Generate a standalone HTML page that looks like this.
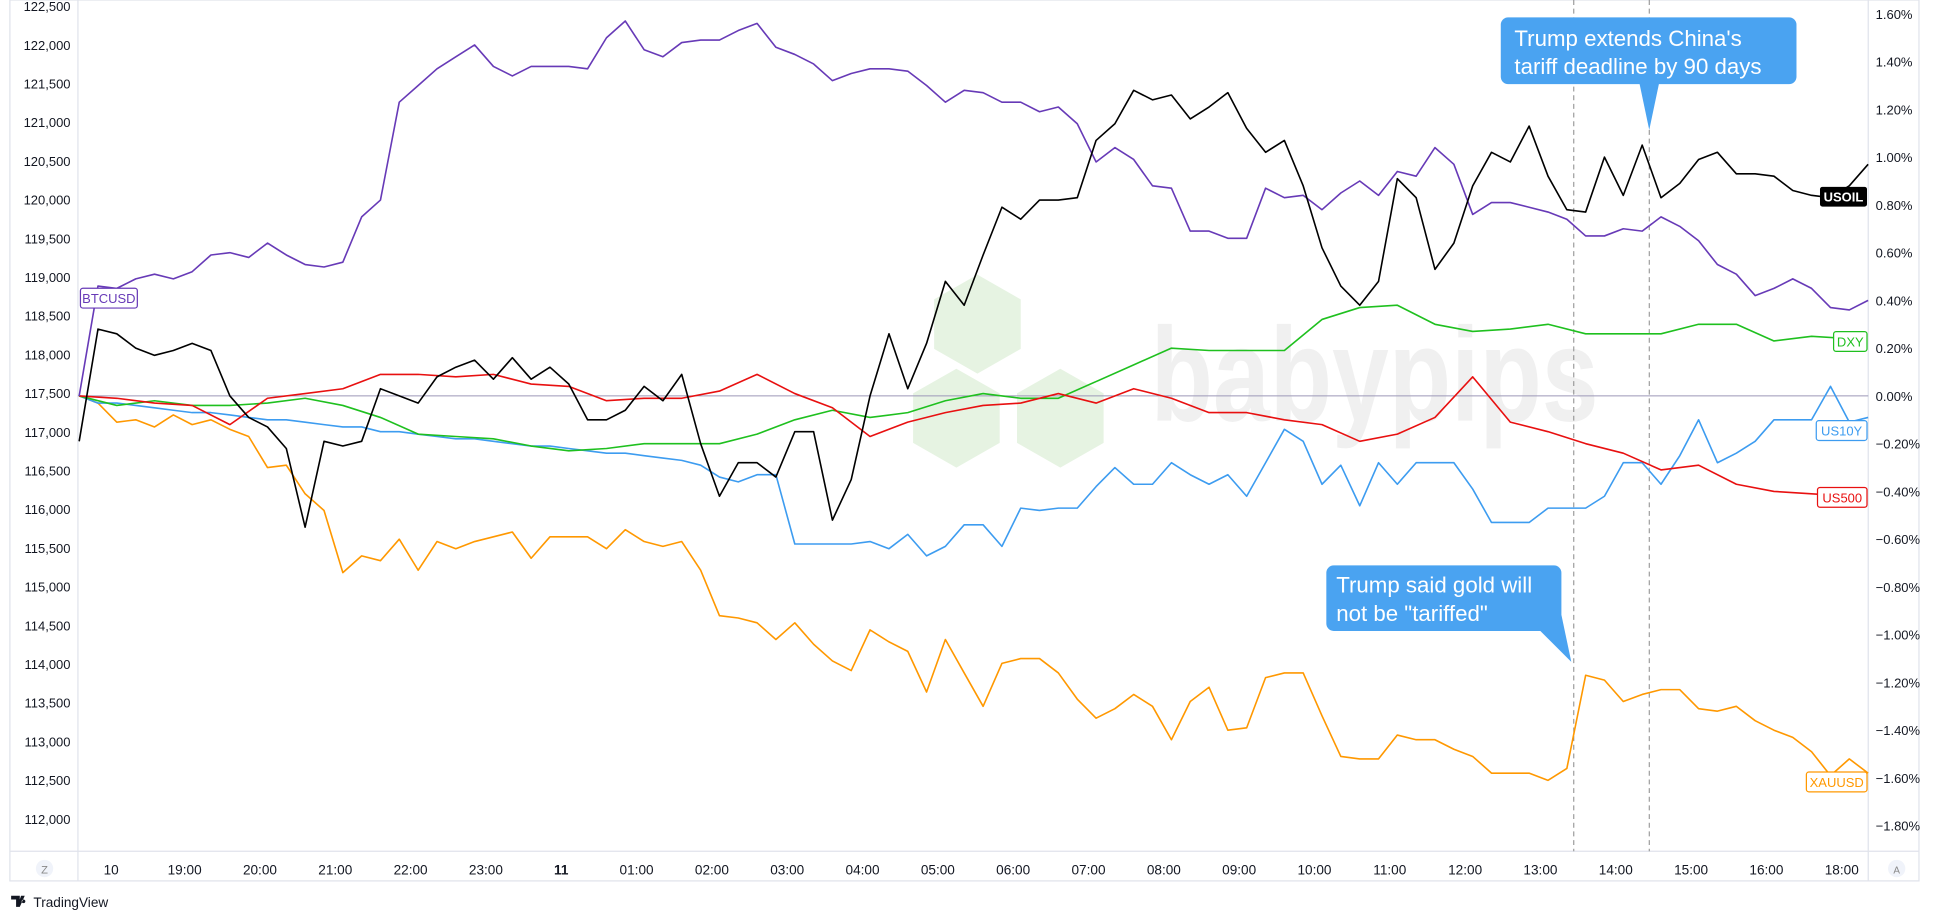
<!DOCTYPE html>
<html><head><meta charset="utf-8">
<style>
html,body{margin:0;padding:0;background:#fff;width:1940px;height:920px;overflow:hidden}
svg{display:block;font-family:"Liberation Sans",sans-serif}
</style></head>
<body>
<svg id="chart" width="1940" height="920" viewBox="0 0 1568 743.6" preserveAspectRatio="none" xmlns="http://www.w3.org/2000/svg">
  <rect x="0" y="0" width="1568" height="743.6" fill="#fff"/>
  <rect x="8" y="0" width="1543" height="712" fill="none" stroke="#e0e3eb" stroke-width="1"/>
  <line x1="63" y1="0" x2="63" y2="712" stroke="#e0e3eb"/>
  <line x1="1510" y1="0" x2="1510" y2="712" stroke="#e0e3eb"/>
  <line x1="8" y1="688" x2="1551" y2="688" stroke="#e0e3eb"/>
  <g>
    <polygon points="790,222 825,242 825,282 790,302 755,282 755,242" fill="#e6f3e2"/>
    <polygon points="773,298 808,318 808,358 773,378 738,358 738,318" fill="#e6f3e2"/>
    <polygon points="857,298 892,318 892,358 857,378 822,358 822,318" fill="#e6f3e2"/>
    <text x="930" y="340" font-size="108" font-weight="bold" fill="#f0f0f0" textLength="362" lengthAdjust="spacingAndGlyphs">babypips</text>
  </g>
  <line x1="63" y1="320" x2="1510" y2="320" stroke="#9c98b8" stroke-width="0.8"/>
  <line x1="1272" y1="0" x2="1272" y2="688" stroke="#888" stroke-dasharray="4,3" stroke-width="0.8"/>
  <line x1="1333" y1="0" x2="1333" y2="688" stroke="#888" stroke-dasharray="4,3" stroke-width="0.8"/>
  <g id="series"></g>
  <g id="axes"></g>
  <g>
    <rect x="1213" y="14" width="239" height="54" rx="6" fill="#4aa3f1"/>
    <polygon points="1325,67 1341,67 1333,105" fill="#4aa3f1"/>
    <text x="1224" y="37" font-size="18" fill="#fff">Trump extends China's</text>
    <text x="1224" y="60" font-size="18" fill="#fff">tariff deadline by 90 days</text>
  </g>
  <g>
    <rect x="1072" y="457" width="190" height="53" rx="6" fill="#4aa3f1"/>
    <polygon points="1244,509 1262,497 1270,535" fill="#4aa3f1"/>
    <text x="1080" y="479" font-size="18" fill="#fff">Trump said gold will</text>
    <text x="1080" y="502" font-size="18" fill="#fff">not be "tariffed"</text>
  </g>
  <g><rect x="1471" y="151" width="38" height="16" rx="2" fill="#000"/><text x="1490" y="163" font-size="10.5" font-weight="bold" fill="#fff" text-anchor="middle">USOIL</text></g>
  <g><rect x="65" y="233" width="46" height="16" rx="2" fill="#fff" stroke="#673ab7"/><text x="88" y="245" font-size="10.5" fill="#673ab7" text-anchor="middle">BTCUSD</text></g>
  <g><rect x="1482" y="268" width="27" height="16" rx="2" fill="#fff" stroke="#1fc01f"/><text x="1495.5" y="280" font-size="10.5" fill="#1fc01f" text-anchor="middle">DXY</text></g>
  <g><rect x="1468" y="340" width="41" height="16" rx="2" fill="#fff" stroke="#3d9cf0"/><text x="1488.5" y="352" font-size="10.5" fill="#3d9cf0" text-anchor="middle">US10Y</text></g>
  <g><rect x="1469" y="394" width="40" height="16" rx="2" fill="#fff" stroke="#e81010"/><text x="1489" y="406" font-size="10.5" fill="#e81010" text-anchor="middle">US500</text></g>
  <g><rect x="1460" y="624" width="49" height="16" rx="2" fill="#fff" stroke="#ff9800"/><text x="1484.5" y="636" font-size="10.5" fill="#ff9800" text-anchor="middle">XAUUSD</text></g>
  <g><circle cx="36" cy="702" r="7" fill="#f0f3fa"/><text x="36" y="706" font-size="9" fill="#888" text-anchor="middle">Z</text></g>
  <g><circle cx="1533" cy="702" r="7" fill="#f0f3fa"/><text x="1533" y="706" font-size="8" fill="#888" text-anchor="middle">A</text></g>
  <g>
    <path d="M9,724 h7 v9 h-3 v-6 h-4 z M17,724 h3 l-4,9 h-2 z M19,727 a1.5,1.5 0 1 0 0.01,0 z" fill="#131722"/>
    <text x="27" y="733" font-size="11" fill="#131722">TradingView</text>
  </g>
</svg>
<script>
const leftTicks = ["122,500","122,000","121,500","121,000","120,500","120,000","119,500","119,000","118,500","118,000","117,500","117,000","116,500","116,000","115,500","115,000","114,500","114,000","113,500","113,000","112,500","112,000"];
const rightTicks = [1.6,1.4,1.2,1.0,0.8,0.6,0.4,0.2,0.0,-0.2,-0.4,-0.6,-0.8,-1.0,-1.2,-1.4,-1.6,-1.8];
const timeLabels = ["10","19:00","20:00","21:00","22:00","23:00","11","01:00","02:00","03:00","04:00","05:00","06:00","07:00","08:00","09:00","10:00","11:00","12:00","13:00","14:00","15:00","16:00","18:00"];
const timeLabelSlots = [1.7,5.6,9.6,13.6,17.6,21.6,25.6,29.6,33.6,37.6,41.6,45.6,49.6,53.6,57.6,61.6,65.6,69.6,73.6,77.6,81.6,85.6,89.6,93.6];
const usoil = [-0.19,0.28,0.26,0.20,0.17,0.19,0.22,0.19,0,-0.09,-0.13,-0.22,-0.55,-0.19,-0.21,-0.19,0.03,0,-0.03,0.08,0.12,0.15,0.07,0.16,0.07,0.12,0.05,-0.10,-0.10,-0.06,0.04,-0.02,0.09,-0.20,-0.42,-0.28,-0.28,-0.34,-0.15,-0.15,-0.52,-0.35,0,0.26,0.03,0.22,0.48,0.38,0.59,0.79,0.74,0.82,0.82,0.83,1.07,1.14,1.28,1.24,1.26,1.16,1.21,1.27,1.12,1.02,1.07,0.88,0.62,0.46,0.38,0.48,0.91,0.83,0.53,0.64,0.88,1.02,0.98,1.13,0.92,0.78,0.77,1.00,0.84,1.05,0.83,0.89,0.99,1.02,0.93,0.93,0.92,0.86,0.84,0.83,0.88,0.97];
const btcusd = [0,0.46,0.45,0.49,0.51,0.49,0.52,0.59,0.60,0.58,0.64,0.59,0.55,0.54,0.56,0.75,0.82,1.23,1.30,1.37,1.42,1.47,1.38,1.34,1.38,1.38,1.38,1.37,1.50,1.57,1.45,1.42,1.48,1.49,1.49,1.53,1.56,1.46,1.43,1.39,1.32,1.35,1.37,1.37,1.36,1.30,1.23,1.28,1.27,1.23,1.23,1.19,1.21,1.14,0.98,1.04,0.99,0.88,0.87,0.69,0.69,0.66,0.66,0.87,0.83,0.84,0.78,0.85,0.90,0.84,0.94,0.92,1.04,0.97,0.76,0.81,0.81,0.79,0.77,0.74,0.67,0.67,0.70,0.69,0.75,0.71,0.65,0.55,0.51,0.42,0.45,0.49,0.45,0.37,0.36,0.40];
const us10y = [0,-0.03,-0.03,-0.04,-0.05,-0.06,-0.07,-0.07,-0.08,-0.09,-0.10,-0.10,-0.11,-0.12,-0.13,-0.13,-0.15,-0.15,-0.16,-0.17,-0.18,-0.18,-0.19,-0.20,-0.21,-0.21,-0.22,-0.23,-0.24,-0.24,-0.25,-0.26,-0.27,-0.29,-0.34,-0.36,-0.33,-0.33,-0.62,-0.62,-0.62,-0.62,-0.61,-0.64,-0.58,-0.67,-0.63,-0.54,-0.54,-0.63,-0.47,-0.48,-0.47,-0.47,-0.38,-0.30,-0.37,-0.37,-0.28,-0.33,-0.37,-0.33,-0.42,-0.28,-0.14,-0.19,-0.37,-0.29,-0.46,-0.28,-0.37,-0.28,-0.28,-0.28,-0.39,-0.53,-0.53,-0.53,-0.47,-0.47,-0.47,-0.42,-0.28,-0.28,-0.37,-0.25,-0.10,-0.28,-0.24,-0.19,-0.10,-0.10,-0.10,0.04,-0.11,-0.09];
const xauusd = [0,-0.03,-0.11,-0.10,-0.13,-0.08,-0.12,-0.10,-0.14,-0.17,-0.30,-0.29,-0.41,-0.48,-0.74,-0.67,-0.69,-0.60,-0.73,-0.61,-0.64,-0.61,-0.59,-0.57,-0.68,-0.59,-0.59,-0.59,-0.64,-0.56,-0.61,-0.63,-0.61,-0.73,-0.92,-0.93,-0.95,-1.02,-0.95,-1.04,-1.11,-1.15,-0.98,-1.03,-1.07,-1.24,-1.02,-1.16,-1.30,-1.12,-1.10,-1.10,-1.16,-1.27,-1.35,-1.31,-1.25,-1.30,-1.44,-1.28,-1.22,-1.40,-1.39,-1.18,-1.16,-1.16,-1.34,-1.51,-1.52,-1.52,-1.42,-1.44,-1.44,-1.48,-1.51,-1.58,-1.58,-1.58,-1.61,-1.56,-1.17,-1.19,-1.28,-1.25,-1.23,-1.23,-1.31,-1.32,-1.30,-1.36,-1.40,-1.43,-1.49,-1.59,-1.52,-1.58];
const dxy = [0,-0.04,-0.02,-0.04,-0.04,-0.03,-0.01,-0.04,-0.09,-0.16,-0.17,-0.18,-0.21,-0.23,-0.22,-0.20,-0.20,-0.20,-0.16,-0.10,-0.06,-0.09,-0.07,-0.02,0.01,-0.01,-0.01,0.06,0.13,0.20,0.19,0.19,0.19,0.32,0.37,0.38,0.30,0.27,0.28,0.30,0.26,0.26,0.26,0.30,0.30,0.23,0.25,0.24];
const us500 = [0,-0.01,-0.03,-0.04,-0.12,-0.01,0.01,0.03,0.09,0.09,0.08,0.09,0.05,0.04,-0.02,-0.01,-0.01,0.02,0.09,0.01,-0.05,-0.17,-0.11,-0.07,-0.04,-0.03,0.01,-0.03,0.03,-0.01,-0.07,-0.07,-0.10,-0.12,-0.19,-0.16,-0.09,0.08,-0.11,-0.15,-0.20,-0.24,-0.31,-0.29,-0.37,-0.40,-0.41,-0.42];

const NS = "http://www.w3.org/2000/svg";
const x0 = 64, step = 15.22;
function xScale(slot){ return x0 + slot*step; }
function yScale(pct){ return 320 - pct*193; }

const axes = document.getElementById('axes');
leftTicks.forEach((t,i)=>{
  const el = document.createElementNS(NS,'text');
  
  
  el.setAttribute('x', 57); el.setAttribute('y', 9 + i*31.28);
  el.setAttribute('font-size','10.5'); el.setAttribute('fill','#131722'); el.setAttribute('text-anchor','end');
  el.textContent = t; axes.appendChild(el);
});
rightTicks.forEach((v)=>{
  const el = document.createElementNS(NS,'text');
  
  
  el.setAttribute('x', 1516); el.setAttribute('y', yScale(v)+4);
  el.setAttribute('font-size','10.5'); el.setAttribute('fill','#131722');
  el.textContent = (v<0?'\u2212'+Math.abs(v).toFixed(2):v.toFixed(2))+'%';
  axes.appendChild(el);
});
timeLabels.forEach((t,i)=>{
  const el = document.createElementNS(NS,'text');
  
  
  el.setAttribute('x', xScale(timeLabelSlots[i])); el.setAttribute('y', 707);
  el.setAttribute('font-size','11'); el.setAttribute('fill','#131722'); el.setAttribute('text-anchor','middle');
  if(t==="11") el.setAttribute('font-weight','bold');
  el.textContent = t; axes.appendChild(el);
});

const series = document.getElementById('series');
function drawLine(vals, slotStep, color, name){
  const pts = vals.map((v,i)=>xScale(i*slotStep).toFixed(1)+','+yScale(v).toFixed(1)).join(' ');
  const pl = document.createElementNS(NS,'polyline');
  
  
  pl.setAttribute('points', pts);
  pl.setAttribute('fill','none'); pl.setAttribute('stroke',color);
  pl.setAttribute('stroke-width','1.3'); pl.setAttribute('stroke-linejoin','round');
  series.appendChild(pl);
}
drawLine(xauusd,1,'#ff9800','xauusd-line');
drawLine(us10y,1,'#3d9cf0','us10y-line');
drawLine(dxy,2,'#1fc01f','dxy-line');
drawLine(us500,2,'#e81010','us500-line');
drawLine(btcusd,1,'#673ab7','btcusd-line');
drawLine(usoil,1,'#000000','usoil-line');
</script>
</body></html>
